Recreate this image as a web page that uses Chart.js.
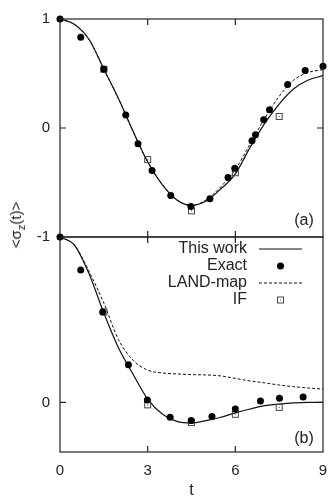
<!DOCTYPE html>
<html><head><meta charset="utf-8">
<script src="https://cdn.jsdelivr.net/npm/chart.js@4"></script>
<style>
html,body{margin:0;padding:0;background:#fff;}
#wrap{position:relative;width:329px;height:500px;overflow:hidden;font-family:"Liberation Sans",Arial,sans-serif;color:#222;}
canvas{position:absolute;left:0;top:0;}
#ylab{position:absolute;left:17px;top:225px;transform:translate(-50%,-50%) rotate(-90deg);font-size:15px;white-space:nowrap;}
.pl{position:absolute;font-size:16px;transform:translate(-50%,-50%);}
</style></head>
<body><div id="wrap">
<canvas id="c1" width="329" height="500"></canvas>
<canvas id="c2" width="329" height="500"></canvas>
<div id="ylab">&lt;σ<sub style="font-size:11px">z</sub>(t)&gt;</div>
<div class="pl" style="left:304px;top:220px">(a)</div>
<div class="pl" style="left:304px;top:438px">(b)</div>
</div>
<script>
// ---- data ----
const tCurve = [0,0.5,1,1.5,2,2.5,3,3.5,4,4.5,5,5.5,6,6.5,7,7.5,8,8.5,9];
const thisWorkA = [1.00,0.95,0.81,0.54,0.27,-0.03,-0.31,-0.52,-0.66,-0.71,-0.67,-0.56,-0.42,-0.18,0.04,0.22,0.36,0.44,0.48];
const landMapA  = [1.00,0.95,0.81,0.54,0.27,-0.03,-0.31,-0.52,-0.66,-0.71,-0.66,-0.54,-0.38,-0.15,0.085,0.29,0.44,0.51,0.535];
const thisWorkB = [1.00,0.95,0.775,0.54,0.33,0.17,0.02,-0.07,-0.115,-0.125,-0.11,-0.09,-0.063,-0.04,-0.02,-0.01,-0.003,0.0,0.0];
const landMapB  = [1.00,0.95,0.79,0.60,0.38,0.255,0.195,0.178,0.172,0.168,0.166,0.16,0.145,0.13,0.118,0.105,0.095,0.087,0.08];
const exactTA = [0,0.71,1.5,2.25,2.67,3.15,3.79,4.48,5.13,5.75,5.98,6.57,6.69,6.97,7.17,7.79,8.39,9.0];
const exactA  = [1.0,0.833,0.54,0.12,-0.145,-0.39,-0.62,-0.72,-0.65,-0.455,-0.37,-0.117,-0.062,0.076,0.168,0.40,0.527,0.566];
const exactTB = [0,0.71,1.46,2.34,2.99,3.77,4.49,5.2,6.0,6.86,7.51,8.32];
const exactB  = [1.0,0.80,0.547,0.227,0.015,-0.09,-0.11,-0.086,-0.04,0.009,0.025,0.033];
const ifT  = [1.5,3,4.5,6,7.5];
const ifA  = [0.54,-0.29,-0.76,-0.41,0.106];
const ifB  = [0.547,-0.015,-0.122,-0.072,-0.03];
const xTicks  = [0,3,6,9];
const yTicksA = [-1,0,1];
const yTicksB = [0];
const seriesLabels = ['This work','Exact','LAND-map','IF'];

// ---- helpers ----
const pts = (xs, ys) => xs.map((x,i)=>({x:x, y:ys[i]}));
const FONT = '"Liberation Sans", Arial, sans-serif';
const INK = '#222';

// IF marker: open square with centre dot
const ifMark = document.createElement('canvas');
ifMark.width = 9; ifMark.height = 9;
(function(){
  const c = ifMark.getContext('2d');
  c.strokeStyle = '#444'; c.lineWidth = 1;
  c.strokeRect(1.5,1.5,6,6);
  c.fillStyle = '#444'; c.fillRect(4,4,1,1);
})();

function datasets(tw, lm, ex, ifv, exT){
  return [
    {label:seriesLabels[0], data:pts(tCurve,tw), showLine:true, borderColor:'#111', borderWidth:1.2,
     pointRadius:0, cubicInterpolationMode:'monotone', order:3},
    {label:seriesLabels[1], data:pts(exT,ex), showLine:false, pointStyle:'circle', pointRadius:3.5,
     backgroundColor:'#000', borderColor:'#000', borderWidth:0, clip:false, order:0},
    {label:seriesLabels[2], data:pts(tCurve,lm), showLine:true, borderColor:'#111', borderWidth:1,
     borderDash:[3,2], pointRadius:0, cubicInterpolationMode:'monotone', order:2},
    {label:seriesLabels[3], data:pts(ifT,ifv), showLine:false, pointStyle:ifMark, pointRadius:4.5,
     clip:false, order:1}
  ];
}

const framePlugin = {
  id:'frame',
  afterDraw(chart){
    const {ctx, chartArea:a, scales:{x,y}} = chart;
    ctx.save();
    ctx.strokeStyle = INK; ctx.lineWidth = 1.2;
    ctx.strokeRect(a.left, a.top, a.right-a.left, a.bottom-a.top);
    const L = 6;
    ctx.beginPath();
    x.ticks.forEach(t=>{
      if (t.value<=x.min || t.value>=x.max) return;
      const px = x.getPixelForValue(t.value);
      ctx.moveTo(px,a.top); ctx.lineTo(px,a.top+L);
      ctx.moveTo(px,a.bottom); ctx.lineTo(px,a.bottom-L);
    });
    y.ticks.forEach(t=>{
      if (t.value<=y.min || t.value>=y.max) return;
      const py = y.getPixelForValue(t.value);
      ctx.moveTo(a.left,py); ctx.lineTo(a.left+L,py);
      ctx.moveTo(a.right,py); ctx.lineTo(a.right-L,py);
    });
    ctx.stroke();
    ctx.restore();
  }
};

const legendPlugin = {
  id:'innerLegend',
  afterDraw(chart, args, opts){
    if (!opts || !opts.show) return;
    const {ctx, chartArea:a} = chart;
    const textRight = a.right - 76, s0 = a.right - 64, s1 = a.right - 21, sc = (s0+s1)/2;
    ctx.save();
    ctx.font = '16px ' + FONT;
    ctx.fillStyle = INK; ctx.textAlign = 'right'; ctx.textBaseline = 'middle';
    chart.data.datasets.forEach((ds,i)=>{
      const yy = a.top + 12 + i*17;
      ctx.fillStyle = INK;
      ctx.fillText(ds.label, textRight, yy);
      if (ds.showLine){
        ctx.save();
        ctx.strokeStyle = ds.borderColor; ctx.lineWidth = ds.borderWidth;
        ctx.setLineDash(ds.borderDash || []);
        ctx.beginPath(); ctx.moveTo(s0,yy); ctx.lineTo(s1,yy); ctx.stroke();
        ctx.restore();
      } else {
        ctx.save();
        ctx.fillStyle = ds.backgroundColor || '#000';
        ctx.strokeStyle = ds.borderColor || '#000';
        ctx.lineWidth = ds.borderWidth || 0;
        Chart.helpers.drawPoint(ctx, {pointStyle:ds.pointStyle, radius:ds.pointRadius, borderWidth:ds.borderWidth||0, rotation:0}, sc, yy);
        ctx.restore();
      }
    });
    ctx.restore();
  }
};

function makeChart(id, cfg){
  return new Chart(document.getElementById(id), {
    type:'scatter',
    data:{datasets:cfg.datasets},
    options:{
      responsive:false, animation:false, devicePixelRatio:1,
      layout:{padding:cfg.padding},
      plugins:{legend:{display:false}, tooltip:{enabled:false}, innerLegend:{show:cfg.legend}},
      scales:{
        x:{type:'linear', min:0, max:9,
           afterBuildTicks:s=>{ s.ticks = xTicks.map(v=>({value:v})); },
           afterFit:s=>{ s.height = cfg.xHeight; s.paddingLeft = 0; s.paddingRight = 0; },
           grid:{display:false, drawTicks:false}, border:{display:false},
           ticks:{display:cfg.xLabels, color:INK, padding:10, font:{family:FONT, size:15}},
           title:{display:cfg.xLabels, text:'t', color:INK, padding:{top:0,bottom:0}, font:{family:FONT, size:16}}},
        y:{type:'linear', min:cfg.ymin, max:cfg.ymax,
           afterBuildTicks:s=>{ s.ticks = cfg.yTicks.map(v=>({value:v})); },
           afterFit:s=>{ s.width = 60; s.paddingTop = 0; s.paddingBottom = 0; },
           grid:{display:false, drawTicks:false}, border:{display:false},
           ticks:{color:INK, padding:10, font:{family:FONT, size:15}}}
      }
    },
    plugins:[framePlugin, legendPlugin]
  });
}

makeChart('c1', {datasets:datasets(thisWorkA, landMapA, exactA, ifA, exactTA),
  padding:{left:0,right:6,top:19,bottom:263}, xHeight:0, xLabels:false,
  ymin:-1, ymax:1, yTicks:yTicksA, legend:false});
makeChart('c2', {datasets:datasets(thisWorkB, landMapB, exactB, ifB, exactTB),
  padding:{left:0,right:6,top:237,bottom:0}, xHeight:48, xLabels:true,
  ymin:-0.3, ymax:1, yTicks:yTicksB, legend:true});
</script>
</body></html>
